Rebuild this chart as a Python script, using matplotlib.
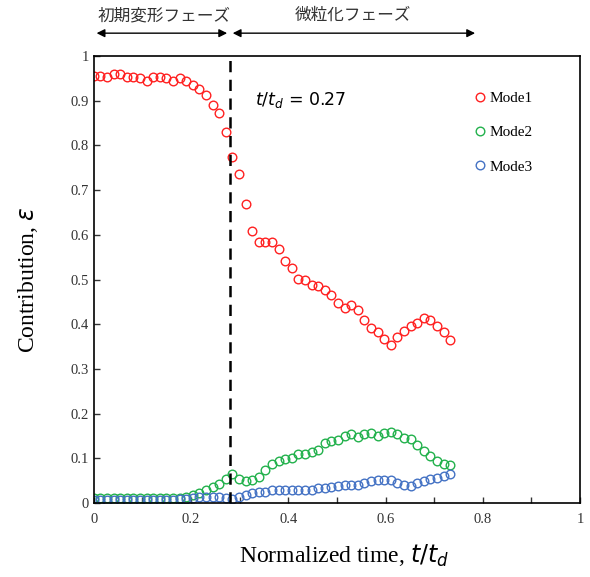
import numpy as np
import matplotlib
matplotlib.use("Agg")
import matplotlib.pyplot as plt

plt.rcParams['font.family'] = ['Liberation Serif', 'Noto Sans CJK JP']
plt.rcParams['mathtext.fontset'] = 'dejavusans'

# normalized time t/t_d, 55 samples
n_pts = 55
t_end = 0.733
t = np.linspace(0, t_end, n_pts)

mode1 = [0.956, 0.956, 0.954, 0.960, 0.960, 0.954, 0.954, 0.951, 0.945, 0.954,
         0.954, 0.951, 0.945, 0.951, 0.943, 0.935, 0.926, 0.913, 0.891, 0.872,
         0.830, 0.773, 0.735, 0.670, 0.609, 0.585, 0.585, 0.583, 0.568, 0.542,
         0.525, 0.501, 0.500, 0.488, 0.485, 0.477, 0.466, 0.447, 0.437, 0.442,
         0.433, 0.409, 0.391, 0.383, 0.366, 0.353, 0.372, 0.385, 0.397, 0.402,
         0.415, 0.409, 0.397, 0.383, 0.364]
mode2 = [0.012, 0.012, 0.012, 0.012, 0.012, 0.012, 0.012, 0.012, 0.012, 0.012,
         0.012, 0.012, 0.012, 0.012, 0.014, 0.018, 0.023, 0.029, 0.035, 0.042,
         0.055, 0.065, 0.054, 0.049, 0.051, 0.059, 0.074, 0.087, 0.095, 0.098,
         0.100, 0.111, 0.111, 0.115, 0.119, 0.134, 0.139, 0.142, 0.151, 0.154,
         0.148, 0.154, 0.156, 0.151, 0.157, 0.159, 0.154, 0.145, 0.144, 0.130,
         0.116, 0.106, 0.095, 0.088, 0.085]
mode3 = [0.008, 0.008, 0.008, 0.008, 0.008, 0.008, 0.008, 0.008, 0.008, 0.008,
         0.008, 0.008, 0.008, 0.009, 0.010, 0.012, 0.013, 0.014, 0.014, 0.014,
         0.012, 0.010, 0.014, 0.018, 0.022, 0.024, 0.025, 0.029, 0.029, 0.029,
         0.029, 0.029, 0.029, 0.029, 0.033, 0.034, 0.037, 0.038, 0.040, 0.040,
         0.040, 0.044, 0.049, 0.051, 0.051, 0.051, 0.046, 0.040, 0.038, 0.044,
         0.049, 0.053, 0.057, 0.060, 0.066]

t_split = 0.28
t_arrow_end = 0.79
phase_labels = ['初期変形フェーズ', '微粒化フェーズ']
x_ticks = [0, 0.2, 0.4, 0.6, 0.8, 1]
x_ticklabels = ['0', '0.2', '0.4', '0.6', '0.8', '1']
y_ticks = [0, 0.1, 0.2, 0.3, 0.4, 0.5, 0.6, 0.7, 0.8, 0.9, 1]
y_ticklabels = ['0', '0.1', '0.2', '0.3', '0.4', '0.5', '0.6', '0.7', '0.8', '0.9', '1']

fig = plt.figure(figsize=(5.9, 5.77), dpi=100)
ax = fig.add_axes([0.159, 0.128, 0.824, 0.775])

colors = ['#ff2020', '#22b14c', '#4472c4']
for y, c, lab in zip([mode1, mode2, mode3], colors, ['Mode1', 'Mode2', 'Mode3']):
    ax.plot(t, y, 'o', mfc='none', mec=c, ms=6.2, mew=1.0, label=lab)

ax.axvline(t_split, color='black', lw=1.8, ls=(0, (4.5, 3)))
ax.text(0.332, 0.902, r'$t/t_d$ = 0.27', fontsize=12.5, family='DejaVu Sans',
        va='center', ha='left')

ax.set_xlim(0, 1)
ax.set_ylim(0, 1)
ax.set_xticks(x_ticks, x_ticklabels)
ax.set_xticks(np.arange(0.1, 1.0, 0.2), minor=True)
ax.set_yticks(y_ticks, y_ticklabels)
ax.tick_params(which='both', direction='in', length=4, width=1, labelsize=10.5,
               colors='#333333', labelcolor='#333333')
ax.tick_params(axis='x', pad=7)
for s in ax.spines.values():
    s.set_linewidth(1.2)

ax.set_xlabel(r'Normalized time, $t/t_d$', fontsize=17, labelpad=12, x=0.515)
ax.set_ylabel(r'Contribution, $\varepsilon$', fontsize=17, labelpad=22)

ax.legend(loc='upper left', bbox_to_anchor=(0.77, 0.938), frameon=False,
          fontsize=11, numpoints=1, handlelength=0.6, handletextpad=0.3,
          labelspacing=1.35, borderpad=0)

# phase arrows above the plot
ya = 1.051
arr = dict(arrowstyle='<|-|>', color='black', lw=1.0, mutation_scale=12)
ax.annotate('', xy=(0.0, ya), xytext=(t_split, ya), xycoords='data',
            arrowprops=arr, annotation_clip=False)
ax.annotate('', xy=(t_split, ya), xytext=(t_arrow_end, ya), xycoords='data',
            arrowprops=arr, annotation_clip=False)
ax.text(0.145, 1.09, phase_labels[0], ha='center', va='center', fontsize=12,
        family='Noto Sans CJK JP', color='#333333', clip_on=False)
ax.text(0.533, 1.09, phase_labels[1], ha='center', va='center', fontsize=12,
        family='Noto Sans CJK JP', color='#333333', clip_on=False)

fig.savefig('out.png', dpi=100)
